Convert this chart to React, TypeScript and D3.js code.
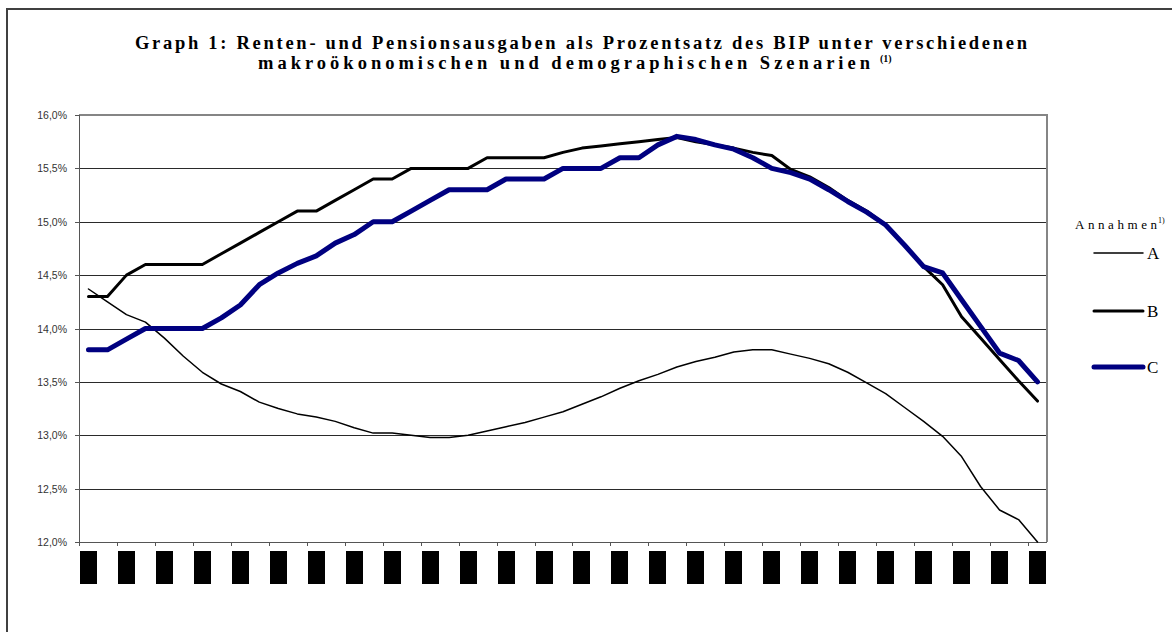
import React, { useEffect, useRef } from "react";
import * as d3 from "d3";

// years on the category axis (labels render as black blocks in the original)
const years = d3.range(2000, 2051);

const szenarioA = [
  14.37, 14.25, 14.13, 14.06, 13.91, 13.74, 13.59, 13.48, 13.41, 13.31,
  13.25, 13.2, 13.17, 13.13, 13.07, 13.02, 13.02, 13.0, 12.98, 12.98,
  13.0, 13.04, 13.08, 13.12, 13.17, 13.22, 13.29, 13.36, 13.44, 13.51,
  13.57, 13.64, 13.69, 13.73, 13.78, 13.8, 13.8, 13.76, 13.72, 13.67,
  13.59, 13.49, 13.39, 13.26, 13.13, 12.99, 12.8, 12.52, 12.3, 12.21,
  12.0,
];

const szenarioB = [
  14.3, 14.3, 14.5, 14.6, 14.6, 14.6, 14.6, 14.7, 14.8, 14.9,
  15.0, 15.1, 15.1, 15.2, 15.3, 15.4, 15.4, 15.5, 15.5, 15.5,
  15.5, 15.6, 15.6, 15.6, 15.6, 15.65, 15.69, 15.71, 15.73, 15.75,
  15.77, 15.79, 15.75, 15.72, 15.69, 15.65, 15.62, 15.49, 15.42, 15.32,
  15.2, 15.1, 14.97, 14.78, 14.58, 14.41, 14.11, 13.91, 13.71, 13.51,
  13.32,
];

const szenarioC = [
  13.8, 13.8, 13.9, 14.0, 14.0, 14.0, 14.0, 14.1, 14.22, 14.41,
  14.52, 14.61, 14.68, 14.8, 14.88, 15.0, 15.0, 15.1, 15.2, 15.3,
  15.3, 15.3, 15.4, 15.4, 15.4, 15.5, 15.5, 15.5, 15.6, 15.6,
  15.72, 15.8, 15.77, 15.72, 15.68, 15.6, 15.5, 15.46, 15.4, 15.3,
  15.19, 15.09, 14.97, 14.78, 14.58, 14.52, 14.27, 14.02, 13.77, 13.7,
  13.5,
];

const yTicks = [12, 12.5, 13, 13.5, 14, 14.5, 15, 15.5, 16];
const seriesNames = ["A", "B", "C"];
const titleLine1 = "Graph 1: Renten- und Pensionsausgaben als Prozentsatz des BIP unter verschiedenen";
const titleLine2 = "makroökonomischen und demographischen Szenarien";
const titleNote = "(1)";
const legendTitle = "Annahmen";
const legendNote = "1)";

const W = 1172;
const H = 632;
const plot = { left: 79, right: 1047, top: 115, bottom: 542 };

export default function App() {
  const svgRef = useRef<SVGSVGElement | null>(null);

  useEffect(() => {
    if (!svgRef.current) return;
    const svg = d3.select(svgRef.current);
    svg.selectAll("*").remove();

    // outer frame
    svg.append("rect")
      .attr("x", 7).attr("y", 9)
      .attr("width", W + 20).attr("height", H + 20)
      .attr("fill", "#fff")
      .attr("stroke", "#404040")
      .attr("stroke-width", 2);

    // title
    const serif = "'Liberation Serif', 'Times New Roman', serif";
    svg.append("text")
      .attr("x", 135).attr("y", 49)
      .attr("textLength", 892)
      .attr("lengthAdjust", "spacing")
      .style("font-family", serif)
      .style("font-weight", "bold")
      .style("font-size", "18.5px")
      .text(titleLine1);
    svg.append("text")
      .attr("x", 258).attr("y", 69)
      .attr("textLength", 612)
      .attr("lengthAdjust", "spacing")
      .style("font-family", serif)
      .style("font-weight", "bold")
      .style("font-size", "18.5px")
      .text(titleLine2);
    svg.append("text")
      .attr("x", 880).attr("y", 62)
      .style("font-family", serif)
      .style("font-weight", "bold")
      .style("font-size", "10px")
      .text(titleNote);

    const x = d3.scaleBand<number>()
      .domain(years)
      .range([plot.left, plot.right]);
    const xc = (yr: number) => (x(yr) as number) + x.bandwidth() / 2;

    const y = d3.scaleLinear()
      .domain([12, 16])
      .range([plot.bottom, plot.top]);

    // gridlines
    svg.append("g")
      .selectAll("line")
      .data(yTicks.filter((t) => t > 12 && t < 16))
      .enter()
      .append("line")
      .attr("x1", plot.left).attr("x2", plot.right)
      .attr("y1", (d) => Math.round(y(d)) + 0.5)
      .attr("y2", (d) => Math.round(y(d)) + 0.5)
      .attr("stroke", "#2a2a2a")
      .attr("stroke-width", 1)
      .attr("shape-rendering", "crispEdges");

    // plot border (top + right in grey)
    svg.append("path")
      .attr("d", `M${plot.left},${y(16)}H${plot.right}V${plot.bottom}`)
      .attr("fill", "none")
      .attr("stroke", "#858585")
      .attr("stroke-width", 2);

    // y axis
    const yAxis = svg.append("g");
    yAxis.append("line")
      .attr("x1", plot.left + 0.5).attr("x2", plot.left + 0.5)
      .attr("y1", plot.top).attr("y2", plot.bottom)
      .attr("stroke", "#555");
    yAxis.selectAll(".tick")
      .data(yTicks)
      .enter()
      .append("line")
      .attr("x1", plot.left - 4).attr("x2", plot.left)
      .attr("y1", (d) => Math.round(y(d)) + 0.5)
      .attr("y2", (d) => Math.round(y(d)) + 0.5)
      .attr("stroke", "#555");
    const fmt = d3.format(".1f");
    yAxis.selectAll(".lbl")
      .data(yTicks)
      .enter()
      .append("text")
      .attr("x", 67)
      .attr("y", (d) => y(d) + 4)
      .attr("text-anchor", "end")
      .style("font-family", "'Liberation Sans', Arial, sans-serif")
      .style("font-size", "10.5px")
      .style("fill", "#333")
      .text((d) => fmt(d).replace(".", ",") + "%");

    // x axis
    const tickYears = years.filter((yr) => (yr - years[0]) % 2 === 0);
    svg.append("line")
      .attr("x1", plot.left).attr("x2", plot.right)
      .attr("y1", plot.bottom + 0.5).attr("y2", plot.bottom + 0.5)
      .attr("stroke", "#555");
    svg.append("g")
      .selectAll("line")
      .data(tickYears)
      .enter()
      .append("line")
      .attr("x1", (d) => Math.round(x(d) as number) + 0.5)
      .attr("x2", (d) => Math.round(x(d) as number) + 0.5)
      .attr("y1", plot.bottom).attr("y2", plot.bottom + 4)
      .attr("stroke", "#555");
    // category labels appear as solid black blocks
    svg.append("g")
      .selectAll("rect")
      .data(tickYears)
      .enter()
      .append("rect")
      .attr("x", (d) => Math.round(xc(d) - 8.5))
      .attr("y", 551)
      .attr("width", 17)
      .attr("height", 33)
      .attr("fill", "#000");

    // series
    const line = d3.line<number>()
      .x((_, i) => xc(years[i]))
      .y((d) => y(d));

    const styles = [
      { data: szenarioA, color: "#000", width: 1.5 },
      { data: szenarioB, color: "#000", width: 3 },
      { data: szenarioC, color: "#000080", width: 5 },
    ];

    styles.forEach((s) => {
      svg.append("path")
        .attr("d", line(s.data) as string)
        .attr("fill", "none")
        .attr("stroke", s.color)
        .attr("stroke-width", s.width)
        .attr("stroke-linejoin", "round")
        .attr("stroke-linecap", "round");
    });

    // legend
    svg.append("text")
      .attr("x", 1075).attr("y", 229)
      .attr("textLength", 82)
      .attr("lengthAdjust", "spacing")
      .style("font-family", serif)
      .style("font-size", "13px")
      .text(legendTitle);
    svg.append("text")
      .attr("x", 1158).attr("y", 223)
      .style("font-family", serif)
      .style("font-size", "8px")
      .text(legendNote);

    const legendY = [253, 311, 367];
    seriesNames.forEach((name, i) => {
      svg.append("line")
        .attr("x1", 1094).attr("x2", 1143)
        .attr("y1", legendY[i]).attr("y2", legendY[i])
        .attr("stroke", styles[i].color)
        .attr("stroke-width", styles[i].width)
        .attr("stroke-linecap", "round");
      svg.append("text")
        .attr("x", 1147).attr("y", legendY[i] + 6)
        .style("font-family", serif)
        .style("font-size", "17px")
        .text(name);
    });
  }, []);

  return (
    <svg
      ref={svgRef}
      width={W}
      height={H}
      style={{ position: "absolute", left: 0, top: 0, display: "block" }}
    />
  );
}
